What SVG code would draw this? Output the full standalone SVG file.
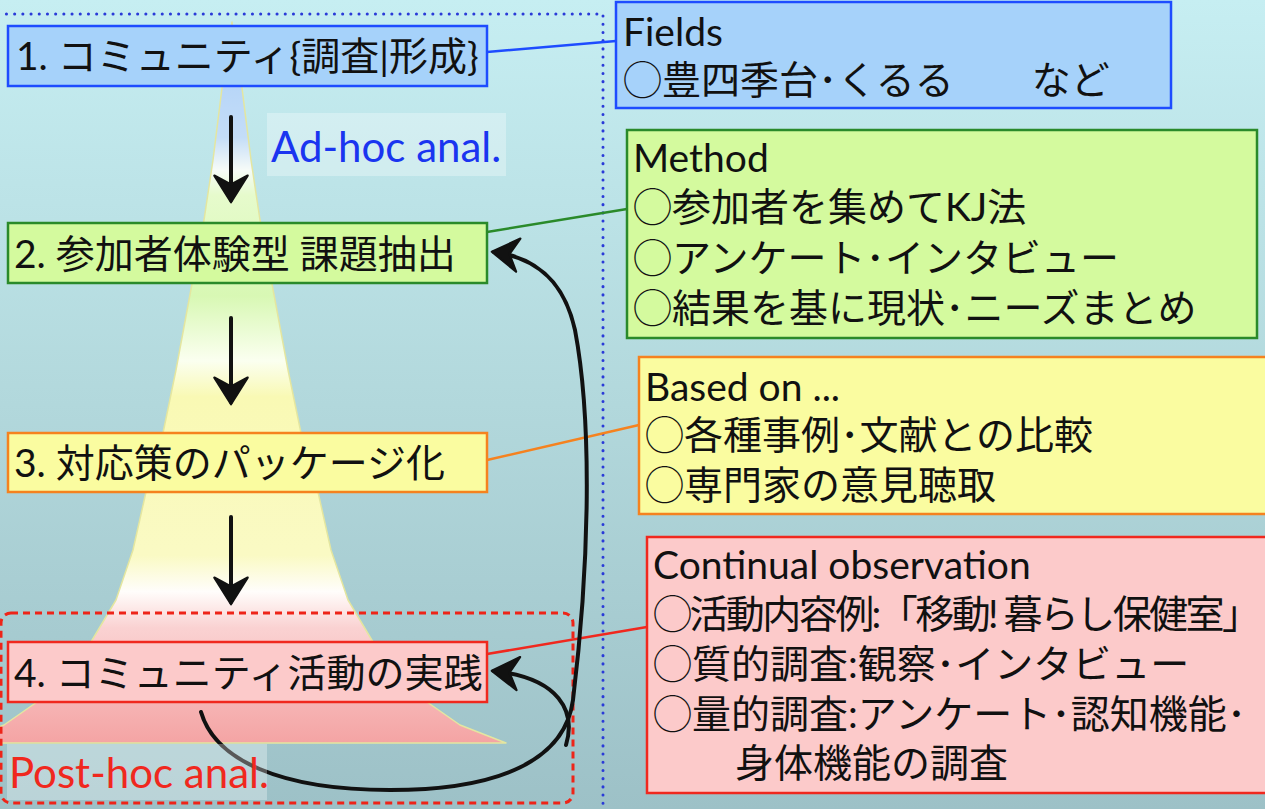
<svg xmlns="http://www.w3.org/2000/svg" width="1265" height="809" viewBox="0 0 1265 809">
<defs>
<linearGradient id="bg" x1="0" y1="0" x2="0" y2="1">
<stop offset="0" stop-color="#c6eef2"/>
<stop offset="0.5" stop-color="#b2d8dc"/>
<stop offset="1" stop-color="#9dc1c7"/>
</linearGradient>
<linearGradient id="fun" gradientUnits="userSpaceOnUse" x1="0" y1="22" x2="0" y2="743">
<stop offset="0" stop-color="#a8cdf8"/>
<stop offset="0.16" stop-color="#c4ddf8"/>
<stop offset="0.205" stop-color="#f6fbf8"/>
<stop offset="0.24" stop-color="#e6fbcc"/>
<stop offset="0.38" stop-color="#d8f8b4"/>
<stop offset="0.47" stop-color="#fbfff0"/>
<stop offset="0.52" stop-color="#f9f9b4"/>
<stop offset="0.74" stop-color="#fafac4"/>
<stop offset="0.79" stop-color="#fffdfb"/>
<stop offset="0.84" stop-color="#fad2d2"/>
<stop offset="1" stop-color="#f4a4a4"/>
</linearGradient>
<marker id="ah" markerUnits="userSpaceOnUse" markerWidth="40" markerHeight="40" viewBox="-26 -18 30 36" refX="0" refY="0" orient="auto">
<path d="M2,0 L-22,-15 L-14,0 L-22,15 Z" fill="#111" stroke="#111" stroke-width="2" stroke-linejoin="round"/>
</marker>
<style>
.t{font-family:Lato,"Noto Sans CJK JP",sans-serif;font-size:39px;fill:#111}
.lbl{font-family:Lato,"Noto Sans CJK JP",sans-serif;font-size:42px}
.b1{fill:#a6d2fa;stroke:#1e4cff;stroke-width:2.5}
.b2{fill:#d4fa9e;stroke:#2a8a2a;stroke-width:2.5}
.b3{fill:#fafca0;stroke:#f5821f;stroke-width:2.5}
.b4{fill:#fccaca;stroke:#f0281e;stroke-width:2.5}
.arr{fill:none;stroke:#111;stroke-width:4;stroke-linecap:round;marker-end:url(#ah)}
.cn{fill:none;stroke-width:2.5}
</style>
</defs>
<rect x="0" y="0" width="1265" height="809" fill="url(#bg)"/>
<g id="funnel">
<path d="M232,22 L242,88 L251,160 L260,220 L275,300 L288,370 L301,433 L318,492 L331,550 L348,600 L373,642 L398,672 L427,702 L460,725 L506,743 L-42,743 L4,725 L37,702 L66,672 L91,642 L116,600 L133,550 L146,492 L163,433 L176,370 L189,300 L204,220 L213,160 L222,88 Z" fill="url(#fun)" stroke="#e4e6a0" stroke-width="1.5" stroke-linejoin="round"/>
</g>
<g id="frames">
<rect x="-10" y="14" width="613" height="830" fill="none" stroke="#2a3ad8" stroke-width="3" stroke-dasharray="0.1 8.1" stroke-linecap="round"/>
<rect x="1" y="613" width="572" height="190" rx="10" fill="none" stroke="#ee2418" stroke-width="3" stroke-dasharray="7 5"/>
</g>
<g id="n1"><rect class="b1" x="8" y="26" width="479" height="60"/><text class="t" x="16" y="70">1. コミュニティ{調査|形成}</text></g>
<g id="n2"><rect class="b2" x="8" y="223" width="479" height="60"/><text class="t" x="14" y="268">2. 参加者体験型 課題抽出</text></g>
<g id="n3"><rect class="b3" x="8" y="433" width="479" height="59"/><text class="t" x="14" y="477">3. 対応策のパッケージ化</text></g>
<g id="n4"><rect class="b4" x="8" y="642" width="479" height="60"/><text class="t" x="14" y="687">4. コミュニティ活動の実践</text></g>
<g id="fields"><rect class="b1" x="616" y="2" width="555" height="106"/>
<text class="t" x="623" y="46">Fields</text>
<text class="t" x="623" y="94">◯豊四季台･くるる　　など</text></g>
<g id="method"><rect class="b2" x="627" y="130" width="630" height="208"/>
<text class="t" x="633" y="172">Method</text>
<text class="t" x="633" y="221">◯参加者を集めてKJ法</text>
<text class="t" x="633" y="272">◯アンケート･インタビュー</text>
<text class="t" x="633" y="322">◯結果を基に現状･ニーズまとめ</text></g>
<g id="basedon"><rect class="b3" x="639" y="357" width="640" height="157"/>
<text class="t" x="645" y="401">Based on ...</text>
<text class="t" x="645" y="449">◯各種事例･文献との比較</text>
<text class="t" x="645" y="499">◯専門家の意見聴取</text></g>
<g id="continual"><rect class="b4" x="647" y="537" width="640" height="256"/>
<text class="t" x="653" y="579">Continual observation</text>
<text class="t" x="653" y="628" textLength="608">◯活動内容例:「移動! 暮らし保健室」</text>
<text class="t" x="653" y="678">◯質的調査:観察･インタビュー</text>
<text class="t" x="653" y="728">◯量的調査:アンケート･認知機能･</text>
<text class="t" x="735" y="777">身体機能の調査</text></g>
<g id="connectors">
<line class="cn" x1="487" y1="52" x2="616" y2="41" stroke="#1e4cff"/>
<line class="cn" x1="487" y1="232" x2="627" y2="209" stroke="#2a8a2a"/>
<line class="cn" x1="487" y1="460" x2="639" y2="425" stroke="#f5821f"/>
<line class="cn" x1="487" y1="654" x2="647" y2="627" stroke="#f0281e"/>
<path class="arr" d="M231,117 L231,200"/>
<path class="arr" d="M231,318 L231,402"/>
<path class="arr" d="M231,517 L231,602"/>
<path class="arr" d="M201,712 C215,760 280,790 390,790 C500,790 565,760 573,700 C590,560 592,420 575,330 C565,285 540,258 494,252"/>
<path class="arr" d="M566,745 C576,712 560,678 494,671"/>
</g>
<g id="labels">
<rect x="267" y="113" width="239" height="63" fill="#ffffff" fill-opacity="0.3"/>
<text class="lbl" x="271" y="162" fill="#1a35f0">Ad-hoc anal.</text>
<rect x="7" y="744" width="260" height="56" fill="#ffffff" fill-opacity="0.3"/>
<text class="lbl" x="9" y="788" fill="#f0281e">Post-hoc anal.</text>
</g>
</svg>
